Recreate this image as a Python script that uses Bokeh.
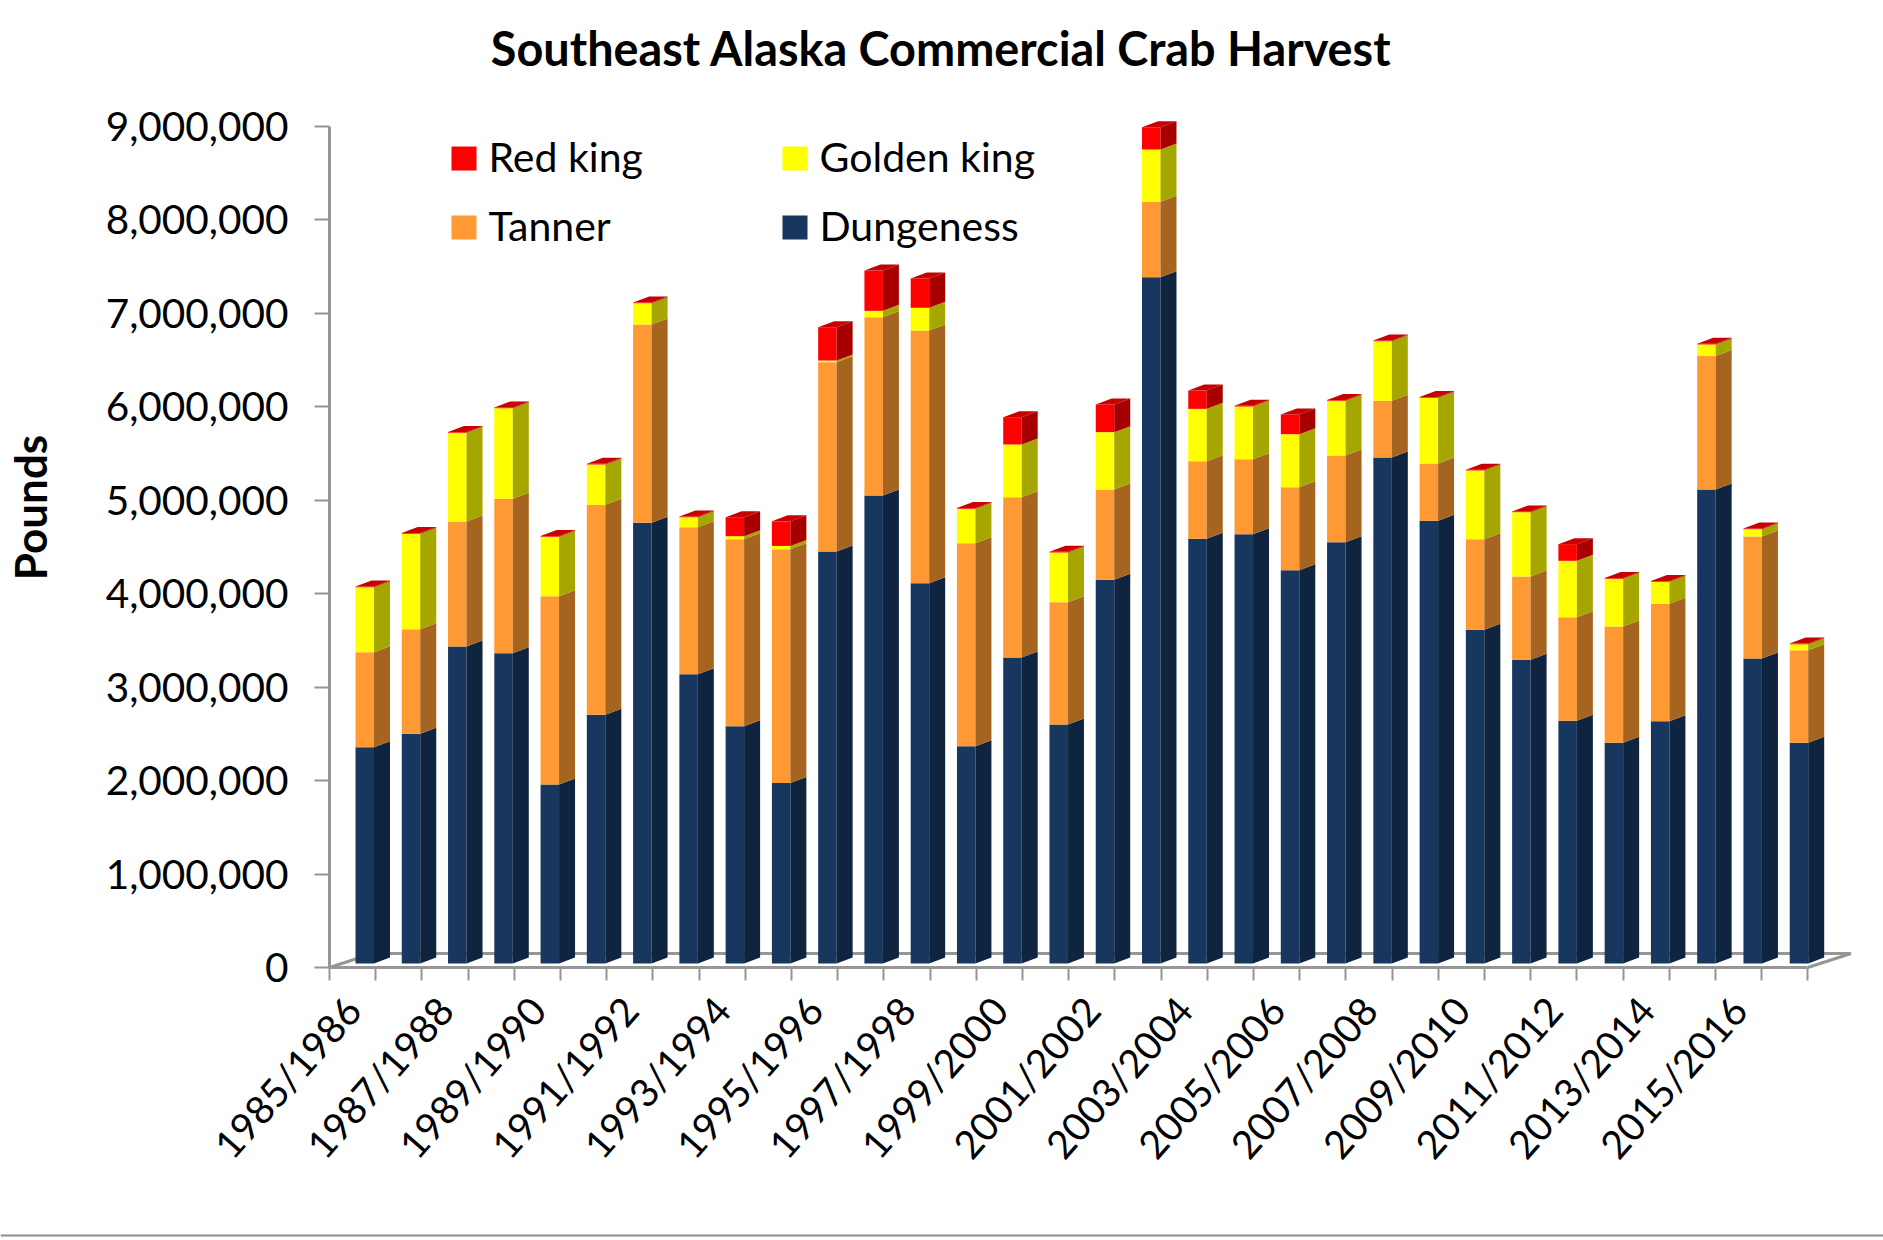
from math import pi
from bokeh.embed import file_html
from bokeh.models import Range1d, FixedTicker, Label, NumeralTickFormatter
from bokeh.plotting import figure
from bokeh.resources import INLINE

title_text = "Southeast Alaska Commercial Crab Harvest"
y_title = "Pounds"
seasons = ["1985/1986","1986/1987","1987/1988","1988/1989","1989/1990","1990/1991","1991/1992","1992/1993",
           "1993/1994","1994/1995","1995/1996","1996/1997","1997/1998","1998/1999","1999/2000","2000/2001",
           "2001/2002","2002/2003","2003/2004","2004/2005","2005/2006","2006/2007","2007/2008","2008/2009",
           "2009/2010","2010/2011","2011/2012","2012/2013","2013/2014","2014/2015","2015/2016","2016/2017"]
dungeness = [2313000,2457000,3390000,3319000,1914000,2660000,4713000,3094000,2538000,1930000,4406000,5005000,
             4067000,2324000,3274000,2556000,4104000,7340000,4542000,4591000,4206000,4506000,5412000,4735000,
             3569000,3248000,2596000,2360000,2591000,5070000,3262000,2360000]
tanner = [1016000,1119000,1337000,1651000,2014000,2246000,2121000,1572000,2000000,2500000,2025000,1907000,
          2703000,2171000,1713000,1308000,966000,806000,830000,802000,888000,927000,606000,613000,
          969000,891000,1108000,1244000,1256000,1426000,1305000,990000]
golden = [695000,1020000,949000,969000,635000,431000,228000,107000,32000,36000,18000,68000,
          243000,368000,564000,532000,613000,559000,560000,564000,567000,585000,637000,703000,
          735000,688000,603000,510000,235000,125000,78000,64000]
red = [8000,8000,8000,8000,8000,8000,8000,8000,203000,263000,356000,431000,
       313000,8000,292000,8000,296000,239000,196000,8000,211000,8000,8000,8000,
       8000,8000,178000,8000,8000,8000,8000,8000]

W, H = 1883, 1240
PX_L, PX_B = 329, 967
PX_CAT, PX_M = 46.2, 93.5


def fx(px):
    return (px - PX_L) / PX_CAT


def fy(py):
    return (PX_B - py) / PX_M * 1e6


p = figure(width=W, height=H, output_backend="svg", toolbar_location=None,
           x_range=Range1d(fx(0), fx(W)), y_range=Range1d(fy(H), fy(0)),
           min_border_left=0, min_border_right=0, min_border_top=0, min_border_bottom=0)
p.grid.visible = False
p.outline_line_color = None
p.background_fill_color = "white"

GRAY = "#969696"
FONT = "Lato"

# floor of the 3-D box
p.line([0, 43 / PX_CAT, 32 + 43 / PX_CAT, 32], [0, 14 / PX_M * 1e6, 14 / PX_M * 1e6, 0],
       line_color=GRAY, line_width=3)

# bars
BASE = 4 / PX_M * 1e6
BAR_L, BAR_W, BAR_STEP = 0.563, 0.40, 1.0014
DX, DY = 16 / PX_CAT, 6 / PX_M * 1e6
series = [(dungeness, "#17375E", "#0F243E"), (tanner, "#FF9933", "#A66421"),
          (golden, "#FFFF00", "#A6A600"), (red, "#FF0000", "#A60000")]
bottoms = [BASE] * len(seasons)
for vals, front, side in series:
    tops = [b + v for b, v in zip(bottoms, vals)]
    lefts = [i * BAR_STEP + BAR_L for i in range(len(vals))]
    rights = [l + BAR_W for l in lefts]
    p.quad(left=lefts, right=rights, bottom=bottoms, top=tops, fill_color=front, line_color=None)
    p.patches(xs=[[r, r + DX, r + DX, r] for r in rights],
              ys=[[b, b + DY, t + DY, t] for b, t in zip(bottoms, tops)],
              fill_color=side, line_color=None)
    bottoms = tops
p.patches(xs=[[l, l + BAR_W, l + BAR_W + DX, l + DX] for l in lefts],
          ys=[[t, t, t + DY, t + DY] for t in bottoms],
          fill_color="#C80000", line_color=None)

# axes
ya = p.yaxis[0]
ya.fixed_location = 0
ya.bounds = (0, 9000000)
ya.ticker = FixedTicker(ticks=list(range(0, 9000001, 1000000)))
ya.formatter = NumeralTickFormatter(format="0,0")
ya.major_tick_in, ya.major_tick_out = 0, 15
ya.minor_tick_line_color = None
ya.axis_line_color = ya.major_tick_line_color = GRAY
ya.axis_line_width, ya.major_tick_line_width = 3, 2
ya.major_label_standoff = 26
ya.major_label_text_font = FONT
ya.major_label_text_font_size = "40.5px"
ya.major_label_text_color = "black"

xa = p.xaxis[0]
xa.fixed_location = 0
xa.bounds = (0, 32)
shown = list(range(0, 32, 2))
xa.ticker = FixedTicker(ticks=[i + 0.5 for i in shown], minor_ticks=list(range(33)))
xa.major_label_overrides = {i + 0.5: seasons[i] for i in shown}
xa.major_label_orientation = 0.85
xa.major_tick_line_color = None
xa.major_tick_in, xa.major_tick_out = 0, 0
xa.minor_tick_in, xa.minor_tick_out = 0, 13
xa.minor_tick_line_color = xa.axis_line_color = GRAY
xa.axis_line_width, xa.minor_tick_line_width = 3, 2
xa.major_label_standoff = 22
xa.major_label_text_font = FONT
xa.major_label_text_font_size = "39px"
xa.major_label_text_color = "black"

# title, y title
p.add_layout(Label(x=fx(941), y=fy(47.5), text=title_text, text_font=FONT, text_font_size="46.8px",
                   text_font_style="bold", text_align="center", text_baseline="middle", text_color="black"))
p.add_layout(Label(x=fx(29), y=fy(507), text=y_title, text_font=FONT, text_font_size="44px", angle=pi / 2,
                   text_font_style="bold", text_align="center", text_baseline="middle", text_color="black"))

# legend
legend_items = [("Red king", "#FF0000", 451, 146), ("Golden king", "#FFFF00", 782, 146),
                ("Tanner", "#FF9933", 451, 215), ("Dungeness", "#17375E", 782, 215)]
for name, col, lx, ty in legend_items:
    p.quad(left=fx(lx), right=fx(lx + 25), top=fy(ty), bottom=fy(ty + 24), fill_color=col, line_color=None)
    p.add_layout(Label(x=fx(lx + 37), y=fy(ty + 10), text=name, text_font=FONT, text_font_size="41px",
                       text_baseline="middle", text_color="black"))

# rule at the page foot
p.line([fx(0), fx(W)], [fy(1235), fy(1235)], line_color="#8C8C8C", line_width=2)

open("out.html", "w").write(file_html(p, INLINE))
